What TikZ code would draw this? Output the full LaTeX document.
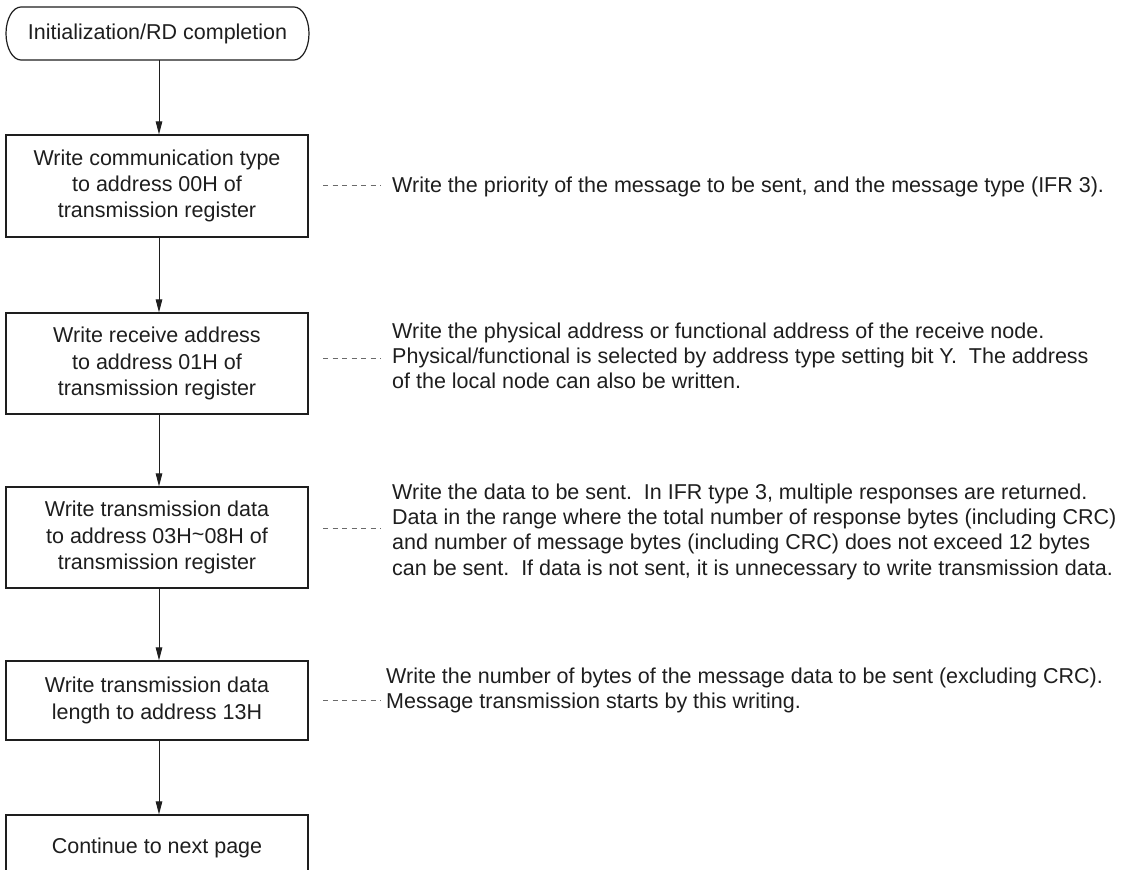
\documentclass[tikz,border=0pt]{standalone}
\usepackage{fontspec}
\setmainfont{Liberation Sans}
\usetikzlibrary{arrows.meta}
\definecolor{ink}{HTML}{1E1E1E}
\definecolor{dashgray}{HTML}{6A6A6A}
\tikzset{
  stepbox/.style={draw=ink, line width=1.2pt, rectangle, inner sep=0pt, minimum width=302pt,
    align=center, text=ink, font=\fontsize{21.5}{26.3}\selectfont},
  pilltext/.style={inner sep=0pt, minimum width=302pt, minimum height=53pt, text=ink,
    font=\fontsize{21.5}{26.3}\selectfont},
  flow/.style={draw=ink, line width=1pt, -{Triangle[length=13pt,width=6.5pt]}},
  note/.style={anchor=base west, align=left, inner sep=0pt, text=ink,
    font=\fontsize{21.5}{25.4}\selectfont},
  link/.style={draw=dashgray, line width=0.9pt, dash pattern=on 5pt off 4.5pt}
}
\begin{document}
\begin{tikzpicture}[x=1pt,y=-1pt]
\clip (0,0) rectangle (1123,869);
\fill[white] (0,0) rectangle (1123,869);

% start terminal
\node[pilltext] (s) at (157.5,33.5) {Initialization/RD completion};
\draw[draw=ink, line width=1.2pt] (21,7) -- (294,7)
  arc[start angle=270, end angle=450, x radius=15, y radius=26.5]
  -- (21,60)
  arc[start angle=90, end angle=270, x radius=15, y radius=26.5] -- cycle;

% steps
\node[stepbox, minimum height=102pt] (b1) at (157,186)
  {Write communication type\\to address 00H of\\transmission register};
\node[stepbox, minimum height=101pt] (b2) at (157,363.5)
  {Write receive address\\to address 01H of\\transmission register};
\node[stepbox, minimum height=101pt] (b3) at (157,537.5)
  {Write transmission data\\to address 03H\raisebox{0.15ex}{\char"007E}08H of\\transmission register};
\node[stepbox, minimum height=79pt] (b4) at (157,700.5)
  {Write transmission data\\length to address 13H};
\node[stepbox, minimum height=65pt] (b5) at (157,847.5)
  {Continue to next page};

% flow arrows
\draw[flow] (s.south -| 159,0) -- (b1.north -| 159,0);
\draw[flow] (b1.south -| 159,0) -- (b2.north -| 159,0);
\draw[flow] (b2.south -| 159,0) -- (b3.north -| 159,0);
\draw[flow] (b3.south -| 159,0) -- (b4.north -| 159,0);
\draw[flow] (b4.south -| 159,0) -- (b5.north -| 159,0);

% annotations (base anchor = baseline of the last line)
\node[note] (n1) at (392,193)
  {Write the priority of the message to be sent, and the message type (IFR 3).};
\node[note] (n2) at (392,388.8)
  {Write the physical address or functional address of the receive node.\\
   Physical/functional is selected by address type setting bit Y.\ \ The address\\
   of the local node can also be written.};
\node[note] (n3) at (392,575.2)
  {Write the data to be sent.\ \ In IFR type 3, multiple responses are returned.\\
   Data in the range where the total number of response bytes (including CRC)\\
   and number of message bytes (including CRC) does not exceed 12 bytes\\
   can be sent.\ \ If data is not sent, it is unnecessary to write transmission data.};
\node[note] (n4) at (386,708.4)
  {Write the number of bytes of the message data to be sent (excluding CRC).\\
   Message transmission starts by this writing.};

% dashed leaders
\coordinate (d1a) at (323,185); \coordinate (d1b) at (381,185);
\coordinate (d2a) at (323,358); \coordinate (d2b) at (381,358);
\coordinate (d3a) at (323,528); \coordinate (d3b) at (381,528);
\coordinate (d4a) at (323,700); \coordinate (d4b) at (381,700);
\draw[link] (d1a) -- (d1b);
\draw[link] (d2a) -- (d2b);
\draw[link] (d3a) -- (d3b);
\draw[link] (d4a) -- (d4b);
\end{tikzpicture}
\end{document}
